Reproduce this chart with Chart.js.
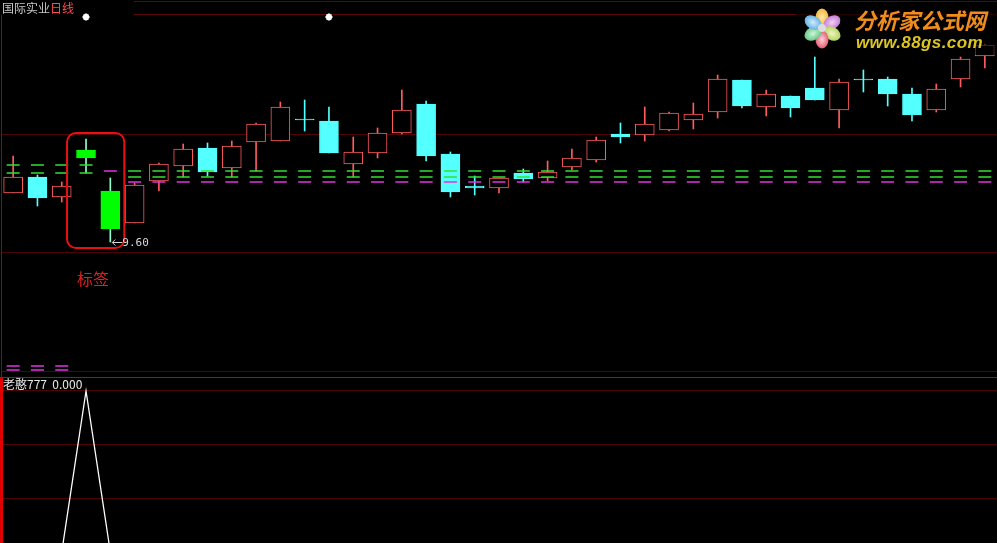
<!DOCTYPE html>
<html>
<head>
<meta charset="utf-8">
<script src="https://cdn.jsdelivr.net/npm/chart.js@4.4.1/dist/chart.umd.min.js"></script>
<style>
html, body { margin: 0; padding: 0; background: #000; }
#wrap { position: relative; width: 997px; height: 543px; overflow: hidden; background: #000; font-family: "Noto Sans CJK SC", sans-serif; }
#top { position: absolute; left: 0; top: 0; }
#bot { position: absolute; left: 0; top: 378px; }
#title { position: absolute; left: 0; top: 0; color: #c8c8c8; font-size: 12px; line-height: 15px; padding-left: 2px; }
#title span { color: #ff4c4c; }
#ltop { position: absolute; left: 1px; top: 15px; width: 1px; height: 362px; background: #a00000; }
#divider { position: absolute; left: 0; top: 377px; width: 997px; height: 1px; background: #d00000; }
#lbot { position: absolute; left: 0; top: 377px; width: 3px; height: 166px; background: #e00000; }
#subtitle { position: absolute; left: 3px; top: 377px; color: #e8e8e8; font-size: 12px; line-height: 14px; }
#tag { position: absolute; left: 77px; top: 268px; color: #e02020; font-size: 16px; line-height: 20px; }
#logo { position: absolute; left: 796px; top: 3px; width: 201px; height: 52px; background: rgba(0,0,0,0.6); }
.p { position: absolute; width: 18px; height: 13px; border-radius: 50%; }
#logo .c { position: absolute; left: 22px; top: 21px; width: 8px; height: 8px; border-radius: 50%; background: #ddd; }
#logo .t1 { position: absolute; left: 58px; top: 4px; font-size: 22px; line-height: 24px; font-weight: bold; font-style: italic; color: #f08c1c; white-space: nowrap; }
#logo .t2 { position: absolute; left: 60px; top: 31px; font-family: "Liberation Sans", sans-serif; font-size: 17px; line-height: 18px; font-weight: bold; font-style: italic; color: #dcc424; white-space: nowrap; letter-spacing: 0.4px; }
</style>
</head>
<body>
<div id="wrap">
  <canvas id="top" width="997" height="377"></canvas>
  <canvas id="bot" width="997" height="165"></canvas>
  <div id="title">国际实业<span>日线</span></div>
  <div id="ltop"></div>
  <div id="divider"></div>
  <div id="lbot"></div>
  <div id="subtitle">老憨777&nbsp; 0.000</div>
  <div id="tag">标签</div>
  <div id="logo">
    <div class="p" style="left:17px;top:7.5px;transform:rotate(-90deg);background:radial-gradient(#ffe9a0,#f0a020)"></div>
    <div class="p" style="left:26.5px;top:13px;transform:rotate(-30deg);background:radial-gradient(#f5d0f5,#b05cc8)"></div>
    <div class="p" style="left:26.5px;top:24px;transform:rotate(30deg);background:radial-gradient(#f0f5c0,#9cc63f)"></div>
    <div class="p" style="left:17px;top:29.5px;transform:rotate(90deg);background:radial-gradient(#ffd0d8,#d9304a)"></div>
    <div class="p" style="left:7.5px;top:24px;transform:rotate(150deg);background:radial-gradient(#d0f5d8,#3cb868)"></div>
    <div class="p" style="left:7.5px;top:13px;transform:rotate(210deg);background:radial-gradient(#d0ecff,#3a9ad9)"></div>
    <div class="c"></div>
    <div class="t1">分析家公式网</div>
    <div class="t2">www.88gs.com</div>
  </div>
</div>
<script>
// 日线数据 (41 根 K 线)
var days = ["1","2","3","4","5","6","7","8","9","10","11","12","13","14","15","16","17","18","19","20","21",
            "22","23","24","25","26","27","28","29","30","31","32","33","34","35","36","37","38","39","40","41"];
var openArr  = [10.09,10.25,10.05,10.52,10.11, 9.79,10.21,10.36,10.54,10.34,10.60,10.61,10.83,10.81,10.38,10.49,10.69,10.98,10.48,10.16,10.14,
                10.29,10.24,10.35,10.42,10.68,10.67,10.72,10.82,10.90,11.22,10.95,11.06,11.14,10.92,11.23,11.23,11.08,10.92,11.23,11.46];
var highArr  = [10.46,10.27,10.20,10.63,10.24,10.19,10.39,10.58,10.59,10.61,10.79,11.00,11.02,10.95,10.65,10.74,11.12,11.01,10.50,10.26,10.24,
                10.33,10.41,10.53,10.65,10.79,10.95,10.90,10.99,11.27,11.22,11.12,11.06,11.45,11.23,11.32,11.25,11.14,11.18,11.45,11.58];
var lowArr   = [10.09, 9.96,10.00,10.29, 9.60, 9.79,10.11,10.25,10.26,10.25,10.31,10.61,10.71,10.49,10.25,10.44,10.68,10.41,10.05,10.07,10.09,
                10.20,10.21,10.32,10.40,10.59,10.61,10.71,10.73,10.84,10.94,10.86,10.85,11.02,10.74,11.10,10.96,10.81,10.90,11.15,11.34];
var closeArr = [10.25,10.04,10.16,10.44, 9.73,10.17,10.38,10.53,10.30,10.56,10.78,10.95,10.82,10.49,10.50,10.69,10.92,10.46,10.10,10.14,10.24,
                10.23,10.30,10.44,10.62,10.65,10.78,10.89,10.88,11.23,10.96,11.08,10.94,11.02,11.20,11.22,11.08,10.87,11.13,11.43,11.57];
var flagged  = [3, 4];          // 标签 K 线

// 指标横线
var green1  = [10.37,10.37,10.37,10.37,null,10.31,10.31,10.31,10.31,10.31,10.31,10.31,10.31,10.31,10.31,10.31,10.31,10.31,10.31,10.31,10.31,
               10.31,10.31,10.31,10.31,10.31,10.31,10.31,10.31,10.31,10.31,10.31,10.31,10.31,10.31,10.31,10.31,10.31,10.31,10.31,10.31];
var green2  = [10.29,10.29,10.29,10.29,null,10.25,10.25,10.25,10.25,10.25,10.25,10.25,10.25,10.25,10.25,10.25,10.25,10.25,10.25,10.25,10.25,
               10.25,10.25,10.25,10.25,10.25,10.25,10.25,10.25,10.25,10.25,10.25,10.25,10.25,10.25,10.25,10.25,10.25,10.25,10.25,10.25];
var magenta = [null,null,null,null,10.31,10.20,10.20,10.20,10.20,10.20,10.20,10.20,10.20,10.20,10.20,10.20,10.20,10.20,10.20,10.20,10.20,
               10.20,10.20,10.20,10.20,10.20,10.20,10.20,10.20,10.20,10.20,10.20,10.20,10.20,10.20,10.20,10.20,10.20,10.20,10.20,10.20];
var magentaLow1 = [8.36, 8.36, 8.36];
var magentaLow2 = [8.32, 8.32, 8.32];
var stars   = [null,null,null,11.85,null,null,null,null,null,null,null,null,null,11.85];

// 纵轴
var priceMin = 8.25, priceMax = 12.02;
var gridTop  = [10.68, 9.49, 8.30];
var topLines = [12.005, 11.875];
var boxHigh = 10.69, boxLow = 9.54;

// 副图 老憨777
var indicator = [0,0,0,1,0,0,0,0,0,0,0,0,0,0,0,0,0,0,0,0,0,0,0,0,0,0,0,0,0,0,0,0,0,0,0,0,0,0,0,0,0];
var indMin = 0.0559, indMax = 1.0807;
var gridBot = [1, 0.6667, 0.3333];

var upColor = "#ff5c5c", downColor = "#54ffff", flagColor = "#00ff00", flagWick = "#8fffd0";
var gridColor = "#4c0404";

function isFlag(i) { return flagged.indexOf(i) >= 0; }
var bodyBorder = days.map(function (d, i) {
  if (isFlag(i)) return flagColor;
  return closeArr[i] >= openArr[i] ? upColor : downColor;
});
var bodyFill = days.map(function (d, i) {
  if (isFlag(i)) return flagColor;
  return closeArr[i] >= openArr[i] ? "#000000" : downColor;
});
var wickColor = days.map(function (d, i) {
  if (isFlag(i)) return flagWick;
  return closeArr[i] >= openArr[i] ? upColor : downColor;
});

var overlay = {
  id: "overlay",
  beforeDatasetsDraw: function (chart) {
    var ctx = chart.ctx, x = chart.scales.x, y = chart.scales.y;
    ctx.save();
    ctx.strokeStyle = "#5a0606";
    ctx.lineWidth = 1;
    topLines.forEach(function (v) {
      var py = y.getPixelForValue(v);
      ctx.beginPath();
      ctx.moveTo(x.getPixelForValue(5) - 1, py);
      ctx.lineTo(chart.chartArea.right, py);
      ctx.stroke();
    });
    ctx.restore();
  },
  afterDatasetsDraw: function (chart) {
    var ctx = chart.ctx, x = chart.scales.x, y = chart.scales.y;
    // 标签框
    var x0 = x.getPixelForValue(flagged[0]) - 19;
    var x1 = x.getPixelForValue(flagged[flagged.length - 1]) + 14;
    var y0 = y.getPixelForValue(boxHigh), y1 = y.getPixelForValue(boxLow);
    ctx.save();
    ctx.strokeStyle = "#e81010";
    ctx.lineWidth = 2;
    ctx.beginPath();
    ctx.roundRect(x0, y0, x1 - x0, y1 - y0, 9);
    ctx.stroke();
    // 最低价
    var lowIdx = 0;
    lowArr.forEach(function (v, i) { if (v < lowArr[lowIdx]) lowIdx = i; });
    var lx = x.getPixelForValue(lowIdx), ly = y.getPixelForValue(lowArr[lowIdx]);
    ctx.strokeStyle = "#d8d8d8";
    ctx.lineWidth = 1;
    ctx.beginPath();
    ctx.moveTo(lx + 2, ly + 0.5); ctx.lineTo(lx + 12, ly + 0.5);
    ctx.moveTo(lx + 5, ly - 2.5); ctx.lineTo(lx + 2, ly + 0.5); ctx.lineTo(lx + 5, ly + 3.5);
    ctx.stroke();
    ctx.fillStyle = "#d8d8d8";
    ctx.font = "11px 'DejaVu Sans Mono'";
    ctx.textBaseline = "middle";
    ctx.fillText(lowArr[lowIdx].toFixed(2), lx + 12, ly + 1);
    ctx.restore();
  }
};

function dashSet(data, color, radius) {
  return {
    type: "line", data: data, showLine: false, pointStyle: "line",
    pointRadius: radius, borderColor: color, pointBorderColor: color, borderWidth: 1.5, order: 0
  };
}

new Chart(document.getElementById("top").getContext("2d"), {
  type: "bar",
  data: {
    labels: days,
    datasets: [
      {
        label: "wick",
        data: days.map(function (d, i) { return [lowArr[i], highArr[i]]; }),
        backgroundColor: wickColor, borderWidth: 0,
        barThickness: 1, grouped: false, order: 3
      },
      {
        label: "body",
        data: days.map(function (d, i) { return [Math.min(openArr[i], closeArr[i]), Math.max(openArr[i], closeArr[i])]; }),
        backgroundColor: bodyFill, borderColor: bodyBorder, borderWidth: 1, borderSkipped: false,
        barThickness: 19, grouped: false, order: 2
      },
      dashSet(green1, "#33e033", 6.5),
      dashSet(green2, "#33e033", 6.5),
      dashSet(magenta, "#e033e0", 6.5),
      dashSet(magentaLow1, "#e033e0", 6.5),
      dashSet(magentaLow2, "#e033e0", 6.5),
      {
        type: "line", data: stars, showLine: false, pointStyle: "star",
        pointRadius: 3.5, borderColor: "#ffffff", borderWidth: 2, order: 0
      }
    ]
  },
  options: {
    responsive: false,
    animation: false,
    events: [],
    layout: { autoPadding: false, padding: { left: 1, right: 0, top: 0, bottom: 0 } },
    plugins: { legend: { display: false }, tooltip: { enabled: false } },
    scales: {
      x: { display: false, offset: true },
      y: {
        min: priceMin, max: priceMax,
        ticks: { display: false },
        border: { display: false },
        grid: { color: gridColor, drawTicks: false },
        afterBuildTicks: function (axis) { axis.ticks = gridTop.map(function (v) { return { value: v }; }); }
      }
    }
  },
  plugins: [overlay]
});

new Chart(document.getElementById("bot").getContext("2d"), {
  type: "line",
  data: {
    labels: days,
    datasets: [{
      label: "老憨777", data: indicator, borderColor: "#ffffff", borderWidth: 1.3,
      pointRadius: 0, tension: 0
    }]
  },
  options: {
    responsive: false,
    animation: false,
    events: [],
    layout: { autoPadding: false, padding: { left: 1, right: 0, top: 0, bottom: 0 } },
    plugins: { legend: { display: false }, tooltip: { enabled: false } },
    scales: {
      x: { display: false, offset: true },
      y: {
        min: indMin, max: indMax,
        ticks: { display: false },
        border: { display: false },
        grid: { color: gridColor, drawTicks: false },
        afterBuildTicks: function (axis) { axis.ticks = gridBot.map(function (v) { return { value: v }; }); }
      }
    }
  }
});
</script>
</body>
</html>
